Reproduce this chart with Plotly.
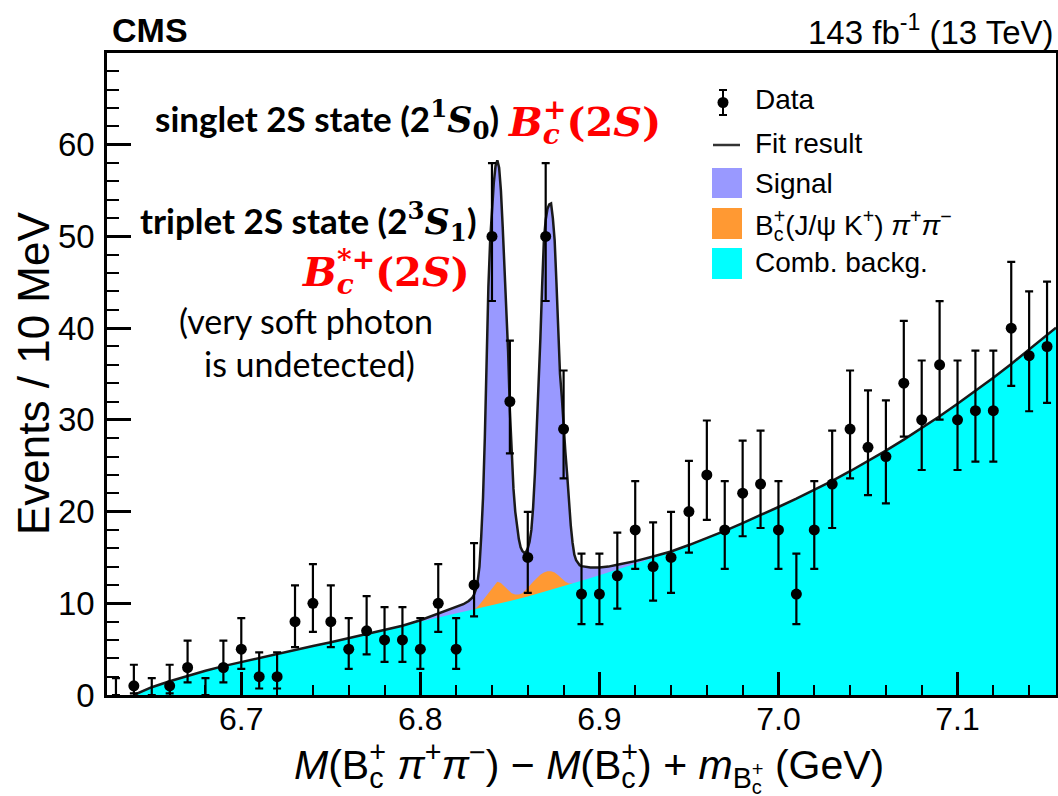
import plotly.graph_objects as go

# ---------------- data ----------------
bin_centers = [6.63, 6.64, 6.65, 6.66, 6.67, 6.68, 6.69, 6.70, 6.71, 6.72,
               6.73, 6.74, 6.75, 6.76, 6.77, 6.78, 6.79, 6.80, 6.81, 6.82,
               6.83, 6.84, 6.85, 6.86, 6.87, 6.88, 6.89, 6.90, 6.91, 6.92,
               6.93, 6.94, 6.95, 6.96, 6.97, 6.98, 6.99, 7.00, 7.01, 7.02,
               7.03, 7.04, 7.05, 7.06, 7.07, 7.08, 7.09, 7.10, 7.11, 7.12,
               7.13, 7.14, 7.15]
counts = [0, 1, 0, 1, 3, 0, 3, 5, 2, 2,
          8, 10, 8, 5, 7, 6, 6, 5, 10, 5,
          12, 50, 32, 15, 50, 29, 11, 11, 13, 18,
          14, 15, 20, 24, 18, 22, 23, 18, 11, 18,
          23, 29, 27, 26, 34, 30, 36, 30, 31, 31,
          40, 37, 38]
err_up = [1.84, 2.30, 1.84, 2.30, 2.92, 1.84, 2.92, 3.38, 2.64, 2.64,
          3.95, 4.27, 3.95, 3.38, 3.77, 3.58, 3.58, 3.38, 4.27, 3.38,
          4.56, 7.99, 6.63, 4.96, 7.99, 6.38, 4.42, 4.42, 4.70, 5.31,
          4.83, 4.96, 5.53, 5.93, 5.31, 5.73, 5.83, 5.31, 4.42, 5.31,
          5.83, 6.38, 6.21, 6.12, 6.79, 6.47, 6.94, 6.47, 6.55, 6.55,
          7.22, 7.01, 7.08]
err_dn = [0.00, 0.83, 0.00, 0.83, 1.63, 0.00, 1.63, 2.16, 1.29, 1.29,
          2.77, 3.11, 2.77, 2.16, 2.58, 2.38, 2.38, 2.16, 3.11, 2.16,
          3.43, 7.04, 5.65, 3.86, 7.04, 5.38, 3.27, 3.27, 3.58, 4.24,
          3.72, 3.86, 4.47, 4.90, 4.24, 4.69, 4.79, 4.24, 3.27, 4.24,
          4.79, 5.38, 5.20, 5.10, 5.82, 5.47, 5.98, 5.47, 5.56, 5.56,
          6.29, 6.06, 6.14]

# combinatorial background curve
bkg_x = [6.640, 6.645, 6.650, 6.660, 6.670, 6.680, 6.690, 6.700, 6.710, 6.720,
         6.730, 6.740, 6.750, 6.760, 6.770, 6.780, 6.790, 6.800, 6.810, 6.820,
         6.830, 6.840, 6.850, 6.860, 6.870, 6.880, 6.890, 6.900, 6.910, 6.920,
         6.930, 6.940, 6.950, 6.960, 6.970, 6.980, 6.990, 7.000, 7.010, 7.020,
         7.030, 7.040, 7.050, 7.060, 7.070, 7.080, 7.090, 7.100, 7.110, 7.120,
         7.130, 7.140, 7.150, 7.155]
bkg_y = [0.00, 0.45, 0.85, 1.50, 2.10, 2.65, 3.15, 3.60, 4.05, 4.50,
         4.95, 5.35, 5.75, 6.20, 6.65, 7.05, 7.50, 7.95, 8.40, 8.85,
         9.30, 9.75, 10.25, 10.75, 11.30, 11.85, 12.45, 13.05, 13.65, 14.30,
         14.95, 15.65, 16.35, 17.10, 17.90, 18.75, 19.60, 20.50, 21.40, 22.35,
         23.35, 24.40, 25.50, 26.65, 27.85, 29.10, 30.40, 31.75, 33.15, 34.60,
         36.10, 37.65, 39.25, 40.05]

# total fit result in the signal window
peak_x = [6.780, 6.790, 6.800, 6.805, 6.810, 6.815, 6.820, 6.824, 6.827, 6.829,
          6.830, 6.831, 6.832, 6.833, 6.834, 6.835, 6.836, 6.837, 6.838, 6.839,
          6.840, 6.841, 6.842, 6.843, 6.844, 6.845, 6.846, 6.847, 6.848, 6.849,
          6.850, 6.851, 6.852, 6.853, 6.854, 6.855, 6.856, 6.857, 6.858, 6.859,
          6.860, 6.861, 6.862, 6.863, 6.864, 6.865, 6.866, 6.867, 6.868, 6.869,
          6.870, 6.871, 6.872, 6.873, 6.874, 6.875, 6.876, 6.877, 6.878, 6.879,
          6.880, 6.881, 6.882, 6.883, 6.884, 6.885, 6.886, 6.887, 6.888, 6.889,
          6.890, 6.895, 6.900, 6.905, 6.910, 6.920, 6.930, 6.940]
peak_total = [7.05, 7.55, 8.15, 8.50, 8.90, 9.25, 9.60, 9.90, 10.25, 10.60,
              10.95, 11.50, 12.40, 14.00, 17.30, 21.50, 28.00, 37.50, 44.50, 49.60,
              53.00, 55.80, 57.70, 58.30, 57.50, 55.00, 51.00, 46.50, 42.00, 37.50,
              31.00, 26.00, 22.50, 20.00, 18.30, 17.00, 16.10, 15.70, 15.50, 15.60,
              16.00, 16.70, 18.00, 20.50, 24.20, 28.50, 33.30, 38.70, 44.50, 49.60,
              51.80, 53.00, 53.50, 53.60, 52.00, 49.60, 45.00, 38.70, 35.00, 32.50,
              29.00, 26.50, 24.00, 21.00, 18.50, 16.60, 15.30, 14.70, 14.40, 14.15,
              14.05, 13.90, 13.90, 14.00, 14.20, 14.60, 15.10, 15.65]

# B_c(J/psi K) pi pi component, stacked on the background
jpsik_x = [6.829, 6.831, 6.833, 6.835, 6.837, 6.839, 6.841, 6.843, 6.845, 6.847,
           6.849, 6.851, 6.853, 6.855, 6.857, 6.859, 6.861, 6.863, 6.865, 6.867,
           6.869, 6.871, 6.873, 6.875, 6.877, 6.879, 6.881, 6.883, 6.885]
jpsik_top = [9.25, 9.45, 9.85, 10.35, 10.85, 11.40, 11.90, 12.35, 12.20, 11.85,
             11.45, 11.10, 10.95, 10.95, 11.10, 11.45, 11.90, 12.35, 12.75, 13.10,
             13.35, 13.50, 13.50, 13.35, 13.05, 12.70, 12.35, 12.15, 12.15]

y_tickvals = [0, 10, 20, 30, 40, 50, 60]
y_minorvals = list(range(0, 70, 2))

fit_x = ([x for x in bkg_x if x < peak_x[0]] + peak_x +
         [x for x in bkg_x if x > peak_x[-1]])
fit_y = ([y for x, y in zip(bkg_x, bkg_y) if x < peak_x[0]] + peak_total +
         [y for x, y in zip(bkg_x, bkg_y) if x > peak_x[-1]])

# ---------------- style ----------------
SIGNAL = "#9999FF"
ORANGE = "#FF9933"
CYAN = "#00FFFF"
LINE = "#1a1a1a"
SANS = "Liberation Sans"
CAL = "Lato"
SERIF = "DejaVu Serif"

W, H = 1058, 796
L, R, T, B = 107, 1056, 53, 695


def PX(x):
    return (x - L) / (R - L)


def PY(y):
    return (B - y) / (B - T)


fig = go.Figure()
fig.add_trace(go.Scatter(x=fit_x, y=fit_y, mode="lines", line=dict(width=0),
                         fill="tozeroy", fillcolor=SIGNAL, name="Signal",
                         hoverinfo="skip"))
fig.add_trace(go.Scatter(x=jpsik_x, y=jpsik_top, mode="lines", line=dict(width=0),
                         fill="tozeroy", fillcolor=ORANGE,
                         name="B_c(J/psi K) pi pi", hoverinfo="skip"))
fig.add_trace(go.Scatter(x=bkg_x, y=bkg_y, mode="lines", line=dict(width=0),
                         fill="tozeroy", fillcolor=CYAN, name="Comb. backg.",
                         hoverinfo="skip"))
fig.add_trace(go.Scatter(x=fit_x, y=fit_y, mode="lines",
                         line=dict(color=LINE, width=2.5), name="Fit result"))
fig.add_trace(go.Scatter(
    x=bin_centers, y=counts, mode="markers", name="Data",
    marker=dict(color="black", opacity=1,
                size=[11 if c > 0 else 0 for c in counts],
                line=dict(width=0, color="black")),
    error_y=dict(type="data", symmetric=False, array=err_up, arrayminus=err_dn,
                 color="black", thickness=2.2, width=4)))

fig.update_layout(
    template="none",
    width=W, height=H, margin=dict(l=L, r=W - R, t=T, b=H - B),
    paper_bgcolor="white", plot_bgcolor="white", showlegend=False,
    font=dict(family=SANS, size=32, color="black"),
)
fig.update_xaxes(
    range=[6.625, 7.155], tick0=6.7, dtick=0.1, tickformat=".1f",
    ticks="inside", ticklen=23, tickwidth=2.5, tickcolor="black",
    minor=dict(tick0=6.6, dtick=0.02, ticks="inside", ticklen=10, tickwidth=2,
               tickcolor="black"),
    showline=True, linecolor="black", linewidth=2.5, mirror=True,
    showgrid=False, zeroline=False, tickfont=dict(family=SANS, size=32),
    ticklabelstandoff=-6,
)
fig.update_yaxes(
    range=[0, 70], tickmode="array", tickvals=y_tickvals,
    ticks="inside", ticklen=24, tickwidth=2.5, tickcolor="black",
    minor=dict(tickmode="array", tickvals=y_minorvals, ticks="inside",
               ticklen=12, tickwidth=2, tickcolor="black"),
    showline=True, linecolor="black", linewidth=2.5, mirror=True,
    showgrid=False, zeroline=False, tickfont=dict(family=SANS, size=33),
    ticklabelstandoff=3,
)


def ann(text, x, y, xanchor="left", yanchor="middle", size=26, family=SANS,
        color="black", angle=0):
    fig.add_annotation(text=text, x=PX(x), y=PY(y), xref="paper", yref="paper",
                       xanchor=xanchor, yanchor=yanchor, showarrow=False,
                       textangle=angle,
                       font=dict(size=size, family=family, color=color))


def stack(sub, sup, ls):
    return ('<sub><span style="letter-spacing:%s">%s</span></sub><sup>%s</sup>'
            % (ls, sub, sup))


# header
ann("<b>CMS</b>", 110, 30, size=34)
ann("143 fb<sup>-1</sup> (13 TeV)", 1056, 30, xanchor="right", size=33)

# physics annotations
math_on = "<span style=\"font-family:'%s'\">" % SERIF
ann("<b>singlet 2S state (2" + math_on + "<sup>1</sup><i>S</i><sub>0</sub></span>)</b>",
    153, 120, size=35, family=CAL)
ann("<b><i>B</i>" + stack("<i>c</i>", "+", "-0.6em") + "(2<i>S</i>)</b>",
    506, 122, size=40, family=SERIF, color="#FF0000")
ann("<b>triplet 2S state (2" + math_on + "<sup>3</sup><i>S</i><sub>1</sub></span>)</b>",
    138, 222, size=35, family=CAL)
ann("<b><i>B</i>" + stack("<i>c</i>", "*+", "-0.6em") + "(2<i>S</i>)</b>",
    472, 272, xanchor="right", size=40, family=SERIF, color="#FF0000")
ann("(very soft photon", 306, 320, xanchor="center", size=34, family=CAL)
ann("is undetected)", 309, 363, xanchor="center", size=34, family=CAL)

# axis titles
bc = "B" + stack("c", "+", "-0.5em")
xtitle = ("<i>M</i>(" + bc + " <i>π</i><sup>+</sup><i>π</i><sup>−</sup>) − <i>M</i>("
          + bc + ") + <i>m</i><sub>" + bc + "</sub> (GeV)")
ann(xtitle, 589, 765, xanchor="center", size=41)
ann("Events / 10 MeV", 33, 374, xanchor="center", size=44, angle=-90)

# manual legend
leg_text_x = 753
ann("Data", leg_text_x, 100, size=28)
ann("Fit result", leg_text_x, 143, size=28)
ann("Signal", leg_text_x, 184, size=28)
ann("B" + stack("c", "+", "-0.5em") + "(J/ψ K<sup>+</sup>) <i>π</i><sup>+</sup><i>π</i><sup>−</sup>",
    leg_text_x, 223, size=28)
ann("Comb. backg.", leg_text_x, 262, size=28)


def line_px(x0, y0, x1, y1, color="black", width=2):
    fig.add_shape(type="line", xref="paper", yref="paper",
                  x0=PX(x0), y0=PY(y0), x1=PX(x1), y1=PY(y1),
                  line=dict(color=color, width=width))


def rect_px(x0, y0, x1, y1, color):
    fig.add_shape(type="rect", xref="paper", yref="paper",
                  x0=PX(x0), y0=PY(y0), x1=PX(x1), y1=PY(y1),
                  line=dict(width=0), fillcolor=color)


# Data symbol
line_px(723, 90, 723, 115, width=2)
line_px(719, 90, 727, 90, width=2)
line_px(719, 115, 727, 115, width=2)
fig.add_shape(type="circle", xref="paper", yref="paper",
              x0=PX(717.5), y0=PY(97), x1=PX(728.5), y1=PY(108),
              line=dict(width=0), fillcolor="black")
# Fit result symbol
line_px(713, 145, 740, 145, color="#333333", width=2.5)
# filled swatches
rect_px(712, 168, 742, 198, SIGNAL)
rect_px(712, 208, 742, 239, ORANGE)
rect_px(712, 248, 742, 279, CYAN)

fig.write_html("out.html")
